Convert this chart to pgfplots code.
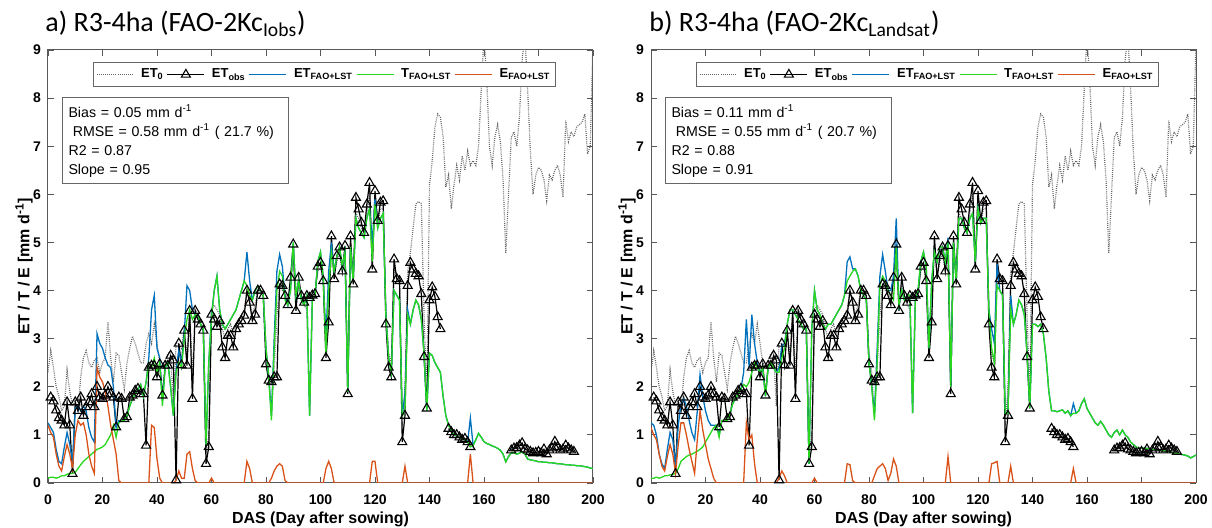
\documentclass[border=0pt]{standalone}
\usepackage{pgfplots}
\pgfplotsset{compat=1.18}
\usepackage{pgfplotstable}
\usepackage{fontspec}
\setmainfont{Liberation Sans}
\newfontfamily\titlefont{Carlito}
\definecolor{mblue}{HTML}{0072BD}
\definecolor{mgreen}{RGB}{40,215,30}
\definecolor{mred}{HTML}{D95319}

\pgfplotstableread{
d et0 obs
0 2.30 nan
1 2.75 1.78
2 2.40 1.70
3 2.00 1.51
4 1.80 1.35
5 1.50 1.30
6 1.60 1.20
7 2.35 1.68
8 1.90 1.20
9 1.60 0.19
10 1.70 1.68
11 1.50 1.50
12 2.20 1.78
13 2.60 1.40
14 2.75 1.58
15 2.50 1.68
16 2.40 1.85
17 2.55 1.58
18 2.60 2.00
19 2.30 1.78
20 2.50 1.75
21 2.60 1.82
22 3.35 2.00
23 2.60 1.85
24 2.10 1.78
25 2.70 1.16
26 2.65 1.78
27 2.30 1.75
28 1.95 1.33
29 2.50 1.37
30 2.80 1.78
31 3.05 1.82
32 2.90 1.92
33 2.70 1.96
34 2.50 1.85
35 2.50 1.85
36 2.90 0.78
37 3.10 2.40
38 2.90 2.44
39 3.30 2.44
40 2.90 2.20
41 2.50 2.47
42 2.40 1.82
43 2.50 2.44
44 2.70 2.44
45 2.70 2.65
46 1.60 2.55
47 2.90 0.06
48 2.90 2.90
49 2.80 2.45
50 3.20 3.17
51 2.60 2.44
52 3.60 3.58
53 2.20 1.75
54 3.60 3.58
55 3.50 3.40
56 3.40 3.30
57 3.30 3.17
58 0.60 0.40
59 1.00 0.75
60 3.60 3.50
61 3.70 3.40
62 3.60 3.25
63 3.50 3.37
64 3.20 2.82
65 3.00 2.60
66 3.20 3.06
67 3.30 3.06
68 3.10 2.82
69 3.30 3.20
70 3.40 3.30
71 3.50 3.37
72 3.60 3.48
73 4.00 4.00
74 3.80 3.75
75 3.50 3.37
76 3.70 3.50
77 4.00 4.00
78 4.00 4.00
79 3.90 3.89
80 2.70 2.47
81 2.30 2.13
82 1.40 2.10
83 2.40 2.20
84 3.50 2.20
85 4.10 4.13
86 4.00 4.10
87 4.00 3.89
88 3.80 3.70
89 4.20 4.27
90 4.60 4.96
91 3.70 3.58
92 4.10 4.27
93 3.90 3.89
94 3.70 3.75
95 3.60 3.89
96 1.50 3.85
97 3.80 3.90
98 3.90 3.93
99 4.40 4.50
100 4.50 4.58
101 4.20 4.20
102 2.80 2.60
103 3.50 3.34
104 4.90 5.13
105 4.30 4.24
106 4.60 4.72
107 4.80 4.90
108 4.40 4.40
109 4.80 4.93
110 2.00 1.85
111 5.00 5.13
112 4.30 4.13
113 5.60 5.93
114 5.50 5.69
115 5.30 5.41
116 5.20 5.20
117 5.60 5.79
118 6.00 6.24
119 4.70 4.44
120 5.80 6.07
121 5.40 5.45
122 5.70 5.83
123 5.70 5.86
124 3.60 3.30
125 2.70 2.40
126 2.50 2.20
127 4.50 4.65
128 4.30 4.24
129 4.30 4.20
130 1.20 0.85
131 2.00 1.40
132 4.40 4.10
133 4.80 4.58
134 5.30 4.44
135 5.80 4.35
136 5.85 4.30
137 5.80 3.93
138 3.50 2.62
139 1.75 1.55
140 6.20 3.80
141 6.70 4.07
142 7.40 3.87
143 7.67 3.45
144 7.60 3.20
145 7.20 nan
146 6.15 nan
147 6.40 1.13
148 5.70 1.06
149 6.20 1.00
150 6.60 1.00
151 6.30 0.95
152 6.80 0.90
153 6.50 0.92
154 6.90 0.85
155 6.60 0.75
156 6.70 nan
157 6.60 nan
158 7.00 nan
159 8.20 nan
160 9.30 nan
161 8.40 nan
162 7.00 nan
163 6.60 nan
164 7.20 nan
165 7.45 nan
166 7.10 nan
167 6.30 nan
168 4.77 nan
169 6.00 nan
170 7.18 0.68
171 7.30 0.72
172 7.00 0.73
173 7.60 0.78
174 8.80 0.83
175 9.30 0.70
176 8.20 0.68
177 6.90 0.65
178 6.00 0.62
179 6.40 0.63
180 6.56 0.65
181 6.50 0.62
182 6.30 0.70
183 5.87 0.60
184 6.40 0.68
185 6.30 0.72
186 6.50 0.86
187 6.60 0.75
188 6.40 0.68
189 5.94 0.70
190 7.53 0.78
191 7.10 0.72
192 7.30 0.68
193 7.20 0.65
194 7.40 nan
195 7.45 nan
196 7.50 nan
197 7.67 nan
198 6.84 nan
199 7.00 nan
200 9.20 nan
}\common

\pgfplotstableread{
d bl t e
0 1.25 0.10 1.20
1 1.15 0.12 1.05
2 1.05 0.12 0.95
3 0.70 0.10 0.60
4 0.45 0.12 0.35
5 0.40 0.15 0.25
6 0.75 0.15 0.55
7 1.05 0.18 0.80
8 0.80 0.20 0.60
9 0.45 0.20 0.30
10 1.55 0.22 1.00
11 1.60 0.30 1.30
12 1.50 0.38 1.20
13 1.60 0.45 1.25
14 1.50 0.50 1.00
15 1.15 0.55 0.60
16 0.95 0.60 0.35
17 0.85 0.65 0.20
18 3.10 0.70 2.40
19 2.90 0.72 2.20
20 2.80 0.75 2.10
21 2.60 0.80 1.90
22 2.45 0.90 1.60
23 2.40 1.00 1.20
24 2.00 1.20 0.90
25 1.15 0.95 0.60
26 1.30 1.25 0.05
27 1.30 1.30 0
28 1.30 1.30 0
29 1.40 1.40 0
30 1.60 1.60 0
31 1.75 1.75 0
32 1.85 1.85 0
33 1.95 1.95 0
34 2.05 2.05 0
35 1.80 1.80 0
36 2.10 2.10 0
37 2.60 2.50 0
38 3.60 2.40 1.20
39 3.90 2.60 1.15
40 2.80 2.30 0.50
41 2.60 2.50 0.10
42 1.70 1.60 0
43 2.40 2.40 0
44 2.50 2.50 0
45 2.00 2.00 0
46 1.40 1.40 0
47 2.35 2.30 0.05
48 2.75 2.50 0.25
49 2.50 2.40 0.10
50 3.10 3.00 0.10
51 4.10 3.40 0.60
52 4.00 3.60 0.65
53 3.60 3.40 0.30
54 3.50 3.50 0.05
55 3.50 3.50 0
56 3.30 3.30 0
57 3.20 3.20 0
58 0.80 0.80 0
59 2.50 2.50 0
60 3.50 3.40 0.10
61 4.00 4.00 0
62 4.30 4.30 0
63 3.60 3.60 0
64 3.30 3.30 0
65 3.20 3.20 0
66 3.30 3.30 0
67 3.40 3.40 0
68 3.50 3.50 0
69 3.60 3.60 0
70 3.80 3.80 0
71 4.00 4.00 0
72 4.20 4.20 0
73 4.80 4.10 0.45
74 4.20 3.90 0.30
75 3.80 3.80 0
76 4.00 4.00 0
77 4.10 4.10 0
78 4.00 4.00 0
79 3.90 3.90 0
80 2.80 2.80 0
81 2.20 2.20 0
82 1.40 1.30 0.10
83 3.00 2.80 0.25
84 4.40 4.00 0.35
85 4.75 4.40 0.40
86 4.50 4.30 0.35
87 3.85 3.80 0.05
88 3.70 3.70 0
89 4.00 4.00 0
90 5.00 5.00 0
91 3.90 3.90 0
92 4.20 4.20 0
93 3.80 3.80 0
94 3.70 3.70 0
95 3.90 3.90 0
96 1.40 1.40 0
97 3.80 3.80 0
98 3.90 3.90 0
99 4.60 4.60 0
100 4.80 4.80 0
101 4.30 4.30 0
102 3.00 2.70 0.30
103 4.40 4.00 0.45
104 5.00 4.80 0.30
105 4.40 4.40 0
106 4.70 4.70 0
107 4.90 4.90 0
108 4.50 4.50 0
109 4.80 4.80 0
110 1.90 1.90 0
111 4.90 4.90 0
112 4.20 4.20 0
113 5.50 5.50 0
114 5.30 5.30 0
115 5.20 5.20 0
116 5.10 5.10 0
117 5.50 5.50 0
118 5.70 5.70 0
119 5.00 4.60 0.45
120 5.90 5.80 0.45
121 5.30 5.30 0
122 5.50 5.50 0
123 5.60 5.60 0
124 3.50 3.50 0
125 2.60 2.60 0
126 2.30 2.30 0
127 4.00 4.00 0
128 3.90 3.90 0
129 3.80 3.80 0
130 1.40 1.40 0
131 1.85 1.50 0.35
132 3.60 3.50 0
133 3.30 3.30 0
134 3.60 3.60 0
135 3.80 3.80 0
136 3.70 3.70 0
137 3.40 3.40 0
138 2.70 2.70 0
139 1.50 1.50 0
140 2.70 2.70 0
141 2.65 2.65 0
142 2.50 2.50 0
143 2.40 2.40 0
144 2.30 2.30 0
145 1.80 1.80 0
146 1.40 1.40 0
147 1.20 1.20 0
148 1.10 1.10 0
149 1.00 1.00 0
150 0.98 0.98 0
151 0.95 0.95 0
152 0.92 0.92 0
153 0.90 0.90 0
154 0.85 0.85 0
155 1.35 0.75 0.60
156 0.78 0.78 0
157 0.90 0.90 0
158 1.03 1.03 0
159 0.95 0.95 0
160 0.86 0.86 0
161 0.82 0.82 0
162 0.80 0.80 0
163 0.77 0.77 0
164 0.75 0.75 0
165 0.72 0.72 0
166 0.68 0.68 0
167 0.60 0.60 0
168 0.44 0.44 0
169 0.55 0.55 0
170 0.62 0.62 0
171 0.63 0.63 0
172 0.60 0.60 0
173 0.62 0.62 0
174 0.65 0.65 0
175 0.60 0.60 0
176 0.50 0.50 0
177 0.48 0.48 0
178 0.47 0.47 0
179 0.46 0.46 0
180 0.44 0.44 0
181 0.44 0.44 0
182 0.43 0.43 0
183 0.43 0.43 0
184 0.42 0.42 0
185 0.42 0.42 0
186 0.41 0.41 0
187 0.40 0.40 0
188 0.40 0.40 0
189 0.39 0.39 0
190 0.38 0.38 0
191 0.38 0.38 0
192 0.37 0.37 0
193 0.37 0.37 0
194 0.36 0.36 0
195 0.36 0.36 0
196 0.35 0.35 0
197 0.34 0.34 0
198 0.33 0.33 0
199 0.31 0.31 0
200 0.30 0.30 0
}\pa

\pgfplotstableread{
d bl t e
0 1.25 0.10 1.15
1 1.20 0.10 1.00
2 1.00 0.12 0.90
3 0.60 0.10 0.60
4 0.40 0.12 0.35
5 0.30 0.15 0.25
6 0.70 0.15 0.55
7 1.05 0.17 0.80
8 0.90 0.18 0.60
9 0.35 0.20 0.20
10 1.20 0.30 0.80
11 1.65 0.45 1.25
12 1.75 0.50 1.25
13 1.60 0.55 1.00
14 1.30 0.58 0.70
15 1.05 0.60 0.45
16 0.90 0.63 0.20
17 1.50 0.66 0.90
18 2.25 0.70 1.50
19 1.80 0.75 1.10
20 1.50 0.85 0.80
21 1.30 0.95 0.50
22 1.20 1.05 0.30
23 1.20 1.15 0.10
24 1.20 1.20 0
25 1.00 0.95 0
26 1.30 1.30 0
27 1.30 1.30 0
28 1.30 1.30 0
29 1.45 1.45 0
30 1.65 1.65 0
31 1.75 1.75 0
32 1.85 1.85 0
33 1.95 1.95 0
34 2.30 2.05 0
35 3.40 2.00 1.25
36 2.40 2.10 0.90
37 3.50 2.30 1.00
38 2.90 2.50 0.40
39 2.50 2.40 0
40 2.30 2.30 0
41 2.40 2.40 0
42 1.80 1.80 0
43 2.40 2.40 0
44 2.50 2.50 0
45 2.40 2.40 0
46 2.30 2.30 0
47 2.40 2.30 0.10
48 2.85 2.60 0.25
49 2.90 2.80 0.15
50 3.30 3.30 0
51 3.60 3.60 0
52 3.60 3.60 0
53 3.50 3.50 0
54 3.40 3.40 0
55 3.30 3.30 0
56 3.20 3.20 0
57 3.20 3.20 0
58 0.40 0.40 0
59 3.20 3.20 0
60 4.00 4.00 0.10
61 3.60 3.60 0
62 3.50 3.50 0
63 3.30 3.30 0
64 3.20 3.20 0
65 3.30 3.30 0
66 3.30 3.30 0
67 3.40 3.40 0
68 3.50 3.50 0
69 3.60 3.60 0
70 3.70 3.70 0
71 3.90 3.90 0
72 4.60 4.20 0.40
73 4.70 4.30 0.38
74 4.45 4.40 0.05
75 4.45 4.45 0
76 4.30 4.30 0
77 4.00 4.00 0
78 3.90 3.90 0
79 3.80 3.80 0
80 2.50 2.50 0
81 2.00 2.00 0
82 1.45 1.30 0.15
83 2.80 2.50 0.30
84 4.30 4.10 0.35
85 4.75 4.30 0.40
86 4.40 4.20 0.30
87 4.00 4.00 0.05
88 4.00 3.90 0.20
89 4.30 3.80 0.50
90 5.50 4.90 0.35
91 3.70 3.70 0
92 4.00 4.00 0
93 3.80 3.80 0
94 3.90 3.90 0
95 3.90 3.90 0
96 1.45 1.45 0
97 3.80 3.80 0
98 4.00 4.00 0
99 4.60 4.60 0
100 4.80 4.80 0
101 4.50 4.50 0
102 2.80 2.80 0
103 4.20 4.20 0
104 4.80 4.80 0
105 4.60 4.60 0
106 4.90 4.90 0
107 4.90 4.90 0
108 4.60 4.60 0
109 5.10 5.00 0.55
110 2.00 2.00 0
111 5.00 5.00 0
112 4.20 4.20 0
113 5.50 5.50 0
114 5.50 5.50 0
115 5.30 5.30 0
116 5.20 5.20 0
117 5.50 5.50 0
118 5.60 5.60 0
119 4.60 4.60 0
120 5.70 5.70 0
121 5.40 5.40 0
122 5.50 5.50 0
123 5.50 5.50 0
124 3.60 3.60 0
125 3.20 2.80 0.40
126 2.90 2.50 0.42
127 4.55 4.10 0.45
128 4.00 4.00 0
129 3.90 3.90 0
130 1.45 1.45 0
131 1.45 1.45 0
132 3.90 3.60 0.35
133 3.30 3.30 0
134 3.50 3.50 0
135 3.80 3.80 0
136 3.70 3.70 0
137 3.50 3.50 0
138 2.70 2.70 0
139 1.55 1.55 0
140 3.30 3.30 0
141 3.30 3.30 0
142 3.25 3.25 0
143 3.30 3.30 0
144 3.10 3.10 0
145 2.60 2.60 0
146 1.90 1.90 0
147 1.50 1.50 0
148 1.50 1.50 0
149 1.48 1.48 0
150 1.50 1.50 0
151 1.52 1.52 0
152 1.45 1.45 0
153 1.50 1.50 0
154 1.40 1.40 0
155 1.65 1.45 0.30
156 1.45 1.45 0
157 1.50 1.50 0
158 1.65 1.65 0
159 1.75 1.75 0
160 1.55 1.55 0
161 1.45 1.45 0
162 1.35 1.35 0
163 1.25 1.25 0
164 1.20 1.20 0
165 1.28 1.28 0
166 1.20 1.20 0
167 1.10 1.10 0
168 1.00 1.00 0
169 0.95 0.95 0
170 1.05 1.05 0
171 1.10 1.10 0
172 1.00 1.00 0
173 1.10 1.10 0
174 1.00 1.00 0
175 0.95 0.95 0
176 0.85 0.85 0
177 0.80 0.80 0
178 0.75 0.75 0
179 0.72 0.72 0
180 0.72 0.72 0
181 0.72 0.72 0
182 0.72 0.72 0
183 0.71 0.71 0
184 0.70 0.70 0
185 0.69 0.69 0
186 0.68 0.68 0
187 0.68 0.68 0
188 0.68 0.68 0
189 0.66 0.66 0
190 0.65 0.65 0
191 0.64 0.64 0
192 0.62 0.62 0
193 0.61 0.61 0
194 0.60 0.60 0
195 0.59 0.59 0
196 0.58 0.58 0
197 0.56 0.56 0
198 0.52 0.52 0
199 0.55 0.55 0
200 0.58 0.58 0
}\pb

\tikzset{
  stat/.style={draw=black!60, line width=0.5pt, anchor=north west, align=left, fill=white,
    font=\fontsize{7.1}{9.5}\selectfont, text width=107pt, inner xsep=3pt, inner ysep=3.4pt},
}
\pgfplotsset{
  myax/.style={
    scale only axis, width=272.5pt, height=216.5pt,
    xmin=0, xmax=200, ymin=0, ymax=9,
    xtick={0,20,...,200}, ytick={0,1,...,9},
    tick align=inside, major tick length=3pt,
    axis line style={black!65, line width=0.5pt},
    every tick/.style={black!65, line width=0.4pt},
    ticklabel style={font=\bfseries\fontsize{7}{8}\selectfont},
    xticklabel style={yshift=-2.5pt},
    /pgf/number format/assume math mode=true,
    xlabel={DAS (Day after sowing)},
    ylabel={ET / T / E [mm d\textsuperscript{-1}]},
    label style={font=\bfseries\fontsize{8}{9.6}\selectfont},
    xlabel style={at={(axis description cs:0.5,-0.0924)}, anchor=base},
    ylabel style={at={(axis description cs:-0.044,0.5)}, anchor=center},
    unbounded coords=jump,
    legend columns=-1,
    legend style={at={(0.0826,0.972)}, anchor=north west, draw=black!60, line width=0.5pt,
      font=\bfseries\fontsize{6.5}{7.5}\selectfont, inner xsep=1.2pt, inner ysep=1pt,
      nodes={inner xsep=1.5pt},
      /tikz/every odd column/.append style={column sep=2pt}},
    legend image code/.code={\draw[mark repeat=2,mark phase=2,##1] plot coordinates {(0pt,0pt) (9.25pt,0pt) (18.5pt,0pt)};},
  },
  et0/.style={black!60, line width=0.6pt, dash pattern=on 0.45pt off 0.6pt},
  obs/.style={black, line width=0.6pt, mark=triangle, mark size=2.6pt, mark options={solid, fill=white, line width=0.55pt}},
  fao/.style={mblue, line width=0.65pt},
  tt/.style={mgreen, line width=0.65pt},
  ee/.style={mred, line width=0.65pt},
}

\begin{document}
\begin{tikzpicture}
\useasboundingbox (0pt,0pt) rectangle (606pt,264pt);
\begin{axis}[myax, at={(24pt,22.5pt)}, anchor=south west]
\addplot[et0] table[x=d,y=et0]{\common};
\addplot[obs] table[x=d,y=obs]{\common};
\addplot[fao] table[x=d,y=bl]{\pa};
\addplot[tt] table[x=d,y=t]{\pa};
\addplot[ee] table[x=d,y=e]{\pa};
\legend{ET\textsubscript{0},ET\textsubscript{obs},ET\textsubscript{FAO+LST},T\textsubscript{FAO+LST},E\textsubscript{FAO+LST}}
\node[stat] at (axis description cs:0.0257,0.8915) {Bias = 0.05 mm d\textsuperscript{-1}\\\hspace*{0.3em}RMSE = 0.58 mm d\textsuperscript{-1} ( 21.7 \%)\\R2 = 0.87\\Slope = 0.95};
\end{axis}
\begin{axis}[myax, at={(325.5pt,22.5pt)}, anchor=south west]
\addplot[et0] table[x=d,y=et0]{\common};
\addplot[obs] table[x=d,y=obs]{\common};
\addplot[fao] table[x=d,y=bl]{\pb};
\addplot[tt] table[x=d,y=t]{\pb};
\addplot[ee] table[x=d,y=e]{\pb};
\legend{ET\textsubscript{0},ET\textsubscript{obs},ET\textsubscript{FAO+LST},T\textsubscript{FAO+LST},E\textsubscript{FAO+LST}}
\node[stat] at (axis description cs:0.0257,0.8915) {Bias = 0.11 mm d\textsuperscript{-1}\\\hspace*{0.3em}RMSE = 0.55 mm d\textsuperscript{-1} ( 20.7 \%)\\R2 = 0.88\\Slope = 0.91};
\end{axis}
\node[anchor=base west, inner sep=0pt, font=\titlefont\fontsize{14}{16}\selectfont] at (22.5pt,248pt) {a) R3-4ha (FAO-2Kc\textsubscript{Iobs})};
\node[anchor=base west, inner sep=0pt, font=\titlefont\fontsize{14}{16}\selectfont] at (324.5pt,248pt) {b) R3-4ha (FAO-2Kc\textsubscript{Landsat})};
\end{tikzpicture}
\end{document}
